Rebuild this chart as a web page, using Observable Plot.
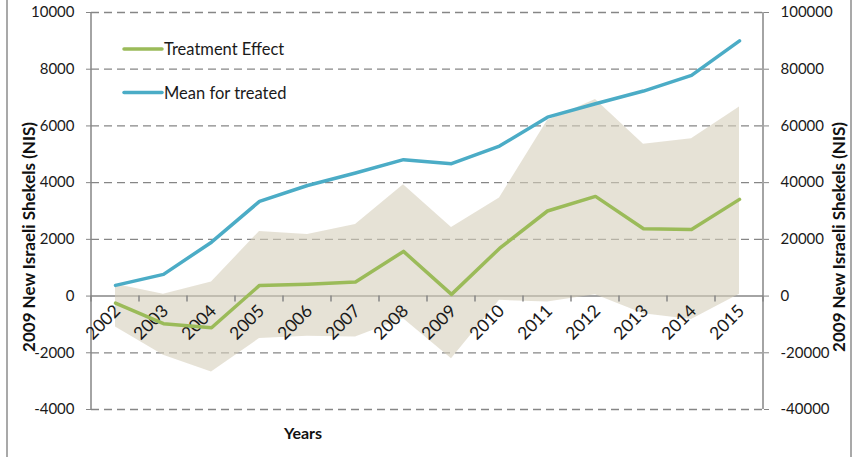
<!DOCTYPE html>
<html><head><meta charset="utf-8">
<script src="https://cdn.jsdelivr.net/npm/d3@7"></script>
<script src="https://cdn.jsdelivr.net/npm/@observablehq/plot@0.6"></script>
<style>body{margin:0;background:#fff;} #chart{width:857px;height:457px;}</style>
</head><body><div id="chart"></div>
<script>
const years = ["2002","2003","2004","2005","2006","2007","2008","2009","2010","2011","2012","2013","2014","2015"];
const treatmentEffect = [-250,-975,-1115,377,420,495,1575,60,1680,3000,3515,2375,2350,3410];
const meanTreated = [3760,7650,19000,33400,39000,43400,48100,46700,52900,63100,67800,72300,77800,90000];
const ciUpper = [420,60,495,2280,2175,2520,3930,2420,3455,6195,6935,5350,5550,6665];
const ciLower = [-1090,-2090,-2680,-1500,-1420,-1445,-800,-2210,-150,-210,50,-620,-830,60];
const leftTicks = [-4000,-2000,0,2000,4000,6000,8000,10000];
const rightFactor = 10; // right axis = left axis x 10
const legendItems = ["Treatment Effect","Mean for treated"];
const yTitle = "2009 New Israeli Shekels (NIS)";
const xTitle = "Years";

const green = "#9bbb59", blue = "#4bacc6", gray = "#868686";
const font = "Lato, 'Open Sans', sans-serif";

const data = years.map((year, i) => ({year, te: treatmentEffect[i], mean: meanTreated[i], lo: ciLower[i], hi: ciUpper[i]}));

const NS = "http://www.w3.org/2000/svg";
function el(name, attrs, parent) {
  const e = document.createElementNS(NS, name);
  for (const k in attrs) e.setAttribute(k, attrs[k]);
  if (parent) parent.appendChild(e);
  return e;
}

const axesMark = (index, scales, values, dims) => {
  const g = el("g", {});
  const x0 = dims.marginLeft, x1 = dims.width - dims.marginRight;
  const yT = scales.y(leftTicks[leftTicks.length - 1]), yB = scales.y(leftTicks[0]), y0 = scales.y(0);
  el("line", {x1: x0, x2: x0, y1: yT, y2: yB, stroke: gray, "stroke-width": 1.5}, g);
  el("line", {x1: x1, x2: x1, y1: yT, y2: yB, stroke: gray, "stroke-width": 1.5}, g);
  const xs = years.map(y => scales.x(y)).concat([x1]);
  for (const x of xs) el("line", {x1: x, x2: x, y1: y0, y2: y0 + 6, stroke: gray, "stroke-width": 1.5}, g);
  return g;
};

const decorMark = (index, scales, values, dims) => {
  const g = el("g", {"font-family": font, "text-anchor": "start"});
  // outer border
  el("line", {x1: 7, x2: 7, y1: 0, y2: dims.height, stroke: "#8c8c8c", "stroke-width": 1.5}, g);
  el("line", {x1: dims.width - 6, x2: dims.width - 6, y1: 0, y2: dims.height, stroke: "#8c8c8c", "stroke-width": 1.5}, g);
  // legend
  const colors = [green, blue];
  legendItems.forEach((label, i) => {
    const ly = dims.marginTop + 37 + i * 43.5;
    const lx = dims.marginLeft + 33;
    el("line", {x1: lx, x2: lx + 38, y1: ly, y2: ly, stroke: colors[i], "stroke-width": 3.5, "stroke-linecap": "round"}, g);
    const t = el("text", {x: lx + 40, y: ly, "text-anchor": "start", "dominant-baseline": "central", "font-size": 16.5, fill: "#1a1a1a"}, g);
    t.textContent = label;
  });
  // axis titles
  const cy = 237;
  const lt = el("text", {transform: `translate(28,${cy}) rotate(-90)`, "text-anchor": "middle", "dominant-baseline": "central", "font-weight": "bold", "font-size": 17, fill: "#111"}, g);
  lt.textContent = yTitle;
  const rt = el("text", {transform: `translate(838,${cy}) rotate(-90)`, "text-anchor": "middle", "dominant-baseline": "central", "font-weight": "bold", "font-size": 17, fill: "#111"}, g);
  rt.textContent = yTitle;
  const xt = el("text", {x: 303, y: 432, "text-anchor": "middle", "dominant-baseline": "central", "font-weight": "bold", "font-size": 16, fill: "#111"}, g);
  xt.textContent = xTitle;
  return g;
};

const chart = Plot.plot({
  width: 857,
  height: 457,
  marginLeft: 91,
  marginRight: 94,
  marginTop: 12,
  marginBottom: 48,
  style: {fontFamily: font, fontSize: "15px", color: "#1a1a1a", background: "white"},
  x: {type: "band", domain: years, padding: 0, axis: null},
  y: {domain: [leftTicks[0], leftTicks[leftTicks.length - 1]], axis: null},
  marks: [
    Plot.gridY(leftTicks.filter(d => d !== 0), {stroke: gray, strokeOpacity: 1, strokeWidth: 1.3, strokeDasharray: "8,5"}),
    Plot.ruleY([0], {stroke: gray, strokeWidth: 1.5}),
    Plot.areaY(data, {x: "year", y1: "lo", y2: "hi", fill: "rgb(214,207,186)", fillOpacity: 0.6}),
    axesMark,
    Plot.axisY(leftTicks, {anchor: "left", tickSize: 5, tickPadding: 12, tickFormat: d => String(d), stroke: gray, fontSize: 15, label: null}),
    Plot.axisY(leftTicks, {anchor: "right", tickSize: 5, tickPadding: 12, tickFormat: d => String(d * rightFactor), stroke: gray, fontSize: 15, label: null}),
    Plot.text(data, {x: "year", y: () => 0, text: "year", rotate: -45, textAnchor: "end", lineAnchor: "middle", dx: 2, dy: 12, fontSize: 17.5, fill: "#1a1a1a"}),
    Plot.line(data, {x: "year", y: "te", stroke: green, strokeWidth: 3.5}),
    Plot.line(data, {x: "year", y: d => d.mean / rightFactor, stroke: blue, strokeWidth: 3.5}),
    decorMark
  ]
});
document.getElementById("chart").appendChild(chart);
</script>
</body></html>
